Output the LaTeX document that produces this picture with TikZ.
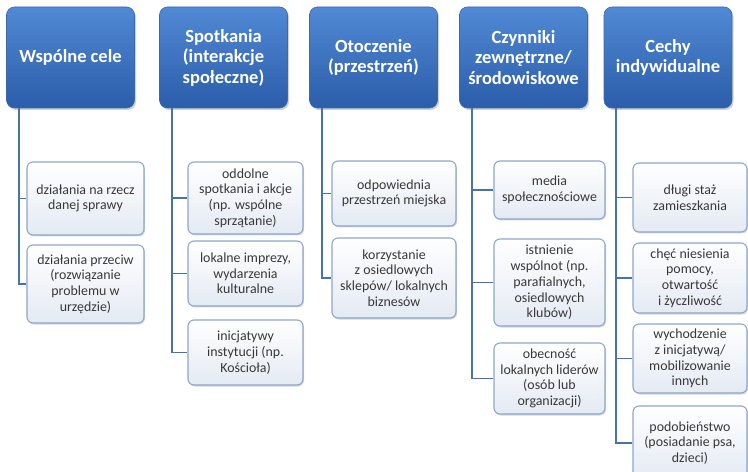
\documentclass[tikz,border=0pt]{standalone}
\usepackage{fontspec}
\setmainfont{Carlito}
\usetikzlibrary{shadows,calc}
\definecolor{hdtop}{HTML}{5189D4}
\definecolor{hdbot}{HTML}{2B5DA9}
\definecolor{hdborder}{HTML}{3A69AE}
\definecolor{chtop}{HTML}{FFFFFF}
\definecolor{chbot}{HTML}{E4EAF3}
\definecolor{chborder}{HTML}{8CA6CC}
\definecolor{linkc}{HTML}{4673AB}
\tikzset{
  header/.style={draw=hdborder, line width=0.6pt, rounded corners=8bp, top color=hdtop, bottom color=hdbot,
    minimum width=128bp, minimum height=101bp, align=center, text=white,
    font=\fontsize{18.5bp}{20.5bp}\selectfont\bfseries,
    drop shadow={shadow xshift=1.5bp, shadow yshift=-2bp, opacity=0.3, fill=black!60}},
  childbox/.style={draw=chborder, line width=1.1pt, rounded corners=6bp, top color=chtop, bottom color=chbot,
    align=center, text=black!78, inner sep=1bp,
    font=\fontsize{13.9bp}{15.7bp}\selectfont,
    drop shadow={shadow xshift=1bp, shadow yshift=-1.5bp, opacity=0.25, fill=black!60}},
  link/.style={draw=linkc, line width=1.8pt}
}
\begin{document}
\begin{tikzpicture}[x=1bp,y=-1bp]
\useasboundingbox (0,0) rectangle (748,472);
\clip (0,0) rectangle (748,472);
\fill[white] (0,0) rectangle (748,472);
% headers
\node[header] (h1) at (70.5,57.5) {Wspólne cele};
\node[header] (h2) at (223.5,57.5) {Spotkania\\(interakcje\\społeczne)};
\node[header] (h3) at (373.5,57.5) {Otoczenie\\(przestrzeń)};
\node[header] (h4) at (523.5,57.5) {Czynniki\\zewnętrzne/\\środowiskowe};
\node[header] (h5) at (668,57.5) {Cechy\\indywidualne};
% column 1
\node[childbox, minimum width=117bp, minimum height=73bp] (c1a) at (85.5,198.5) {działania na rzecz\\danej sprawy};
\node[childbox, minimum width=117bp, minimum height=78bp] (c1b) at (85.5,284) {działania przeciw\\(rozwiązanie\\problemu w\\urzędzie)};
% column 2
\node[childbox, minimum width=115bp, minimum height=72bp] (c2a) at (245.5,198) {oddolne\\spotkania i akcje\\(np. wspólne\\sprzątanie)};
\node[childbox, minimum width=115bp, minimum height=65bp] (c2b) at (245.5,273.5) {lokalne imprezy,\\wydarzenia\\kulturalne};
\node[childbox, minimum width=115bp, minimum height=65bp] (c2c) at (245.5,352.5) {inicjatywy\\instytucji (np.\\Kościoła)};
% column 3
\node[childbox, minimum width=124bp, minimum height=65bp] (c3a) at (394,193.5) {odpowiednia\\przestrzeń miejska};
\node[childbox, minimum width=124bp, minimum height=80bp] (c3b) at (394,278) {korzystanie\\z osiedlowych\\sklepów/ lokalnych\\biznesów};
% column 4
\node[childbox, minimum width=111bp, minimum height=58bp] (c4a) at (549.5,190) {media\\społecznościowe};
\node[childbox, minimum width=111bp, minimum height=87bp] (c4b) at (549.5,282.5) {istnienie\\wspólnot (np.\\parafialnych,\\osiedlowych\\klubów)};
\node[childbox, minimum width=111bp, minimum height=71bp] (c4c) at (549.5,378.5) {obecność\\lokalnych liderów\\(osób lub\\organizacji)};
% column 5
\node[childbox, minimum width=114bp, minimum height=69bp] (c5a) at (690,197.5) {długi staż\\zamieszkania};
\node[childbox, minimum width=114bp, minimum height=70bp] (c5b) at (690,278) {chęć niesienia\\pomocy,\\otwartość\\i życzliwość};
\node[childbox, minimum width=114bp, minimum height=69bp] (c5c) at (690,358.5) {wychodzenie\\z inicjatywą/\\mobilizowanie\\innych};
\node[childbox, minimum width=114bp, minimum height=74bp] (c5d) at (690,443) {podobieństwo\\(posiadanie psa,\\dzieci)};
% connectors
\draw[link] ($(h1.south west)+(13,0)$) |- (c1a.west);
\draw[link] ($(h1.south west)+(13,0)$) |- (c1b.west);
\draw[link] ($(h2.south west)+(13,0)$) |- (c2a.west);
\draw[link] ($(h2.south west)+(13,0)$) |- (c2b.west);
\draw[link] ($(h2.south west)+(13,0)$) |- (c2c.west);
\draw[link] ($(h3.south west)+(13,0)$) |- (c3a.west);
\draw[link] ($(h3.south west)+(13,0)$) |- (c3b.west);
\draw[link] ($(h4.south west)+(13,0)$) |- (c4a.west);
\draw[link] ($(h4.south west)+(13,0)$) |- (c4b.west);
\draw[link] ($(h4.south west)+(13,0)$) |- (c4c.west);
\draw[link] ($(h5.south west)+(12,0)$) |- (c5a.west);
\draw[link] ($(h5.south west)+(12,0)$) |- (c5b.west);
\draw[link] ($(h5.south west)+(12,0)$) |- (c5c.west);
\draw[link] ($(h5.south west)+(12,0)$) |- (c5d.west);
\end{tikzpicture}
\end{document}
